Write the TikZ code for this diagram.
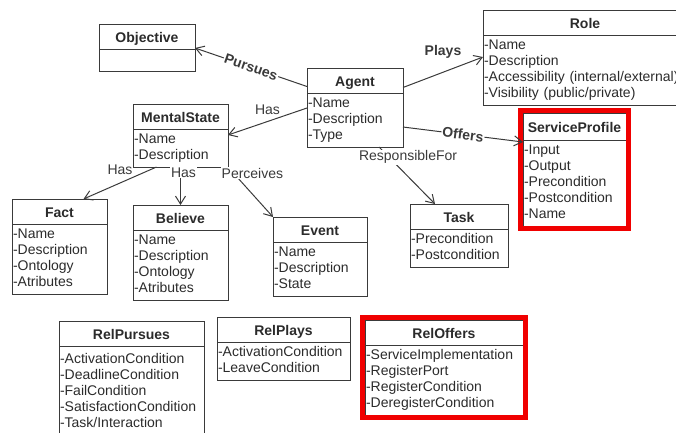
\documentclass[tikz,border=0pt]{standalone}
\usepackage{fontspec}
\setmainfont{Liberation Sans}
\usepackage{tikz}
\usetikzlibrary{arrows.meta,positioning,fit}
\definecolor{umlink}{HTML}{2B2B2B}
\definecolor{umlline}{HTML}{3A3A3A}
\definecolor{hilite}{HTML}{F00000}
\newcommand{\umlfont}{\fontsize{14}{16}\selectfont}

\begin{document}
\begin{tikzpicture}[
  x=1pt, y=-1pt,
  font=\umlfont, text=umlink,
  head/.style={draw=umlline, line width=1pt, anchor=north west, outer sep=0pt,
               minimum width=#1, minimum height=25pt, inner sep=0pt,
               text height=15pt, text depth=4pt, font=\umlfont\bfseries},
  attrs/.style={draw=umlline, line width=1pt, outer sep=0pt, text width=#1,
                align=left, inner xsep=1pt, inner ysep=3pt,
                execute at begin node=\strut, execute at end node=\strut},
  rel/.style={-{Straight Barb[length=8pt,width=10pt]}, umlline, line width=1pt},
  lbl/.style={inner sep=1pt},
  blbl/.style={inner sep=1pt, font=\umlfont\bfseries},
  redbox/.style={draw=hilite, line width=4.5pt, inner sep=2.5pt}]
  \useasboundingbox (0,0) rectangle (676,432);

  % classes
  \node[head=96pt] (obj) at (99,24) {Objective};
  \node[attrs=94pt, below=0pt of obj] (obj-b) {};
  \node[head=96pt] (agent) at (307,68) {Agent};
  \node[attrs=94pt, below=0pt of agent] (agent-b) {-Name\\-Description\\-Type};
  \node[head=95pt] (ms) at (133,104) {MentalState};
  \node[attrs=93pt, below=0pt of ms] (ms-b) {-Name\\-Description};
  \node[head=204pt] (role) at (483,10) {Role};
  \node[attrs=202pt, below=0pt of role] (role-b)
    {-Name\\-Description\\-Accessibility (internal/external)\\-Visibility (public/private)};
  \node[head=103pt, minimum height=27pt] (sp) at (523,113) {ServiceProfile};
  \node[attrs=101pt, below=0pt of sp] (sp-b)
    {-Input\\-Output\\-Precondition\\-Postcondition\\-Name};
  \node[head=98pt] (task) at (410,204) {Task};
  \node[attrs=96pt, below=0pt of task] (task-b) {-Precondition\\-Postcondition};
  \node[head=95pt] (fact) at (12,199) {Fact};
  \node[attrs=93pt, below=0pt of fact] (fact-b)
    {-Name\\-Description\\-Ontology\\-Atributes};
  \node[head=95pt] (bel) at (133,205) {Believe};
  \node[attrs=93pt, below=0pt of bel] (bel-b)
    {-Name\\-Description\\-Ontology\\-Atributes};
  \node[head=94pt] (ev) at (273,217) {Event};
  \node[attrs=92pt, below=0pt of ev] (ev-b) {-Name\\-Description\\-State};

  % relation classes
  \node[head=145pt] (rpu) at (59,321) {RelPursues};
  \node[attrs=143pt, below=0pt of rpu, minimum height=92pt] (rpu-b)
    {-ActivationCondition\\-DeadlineCondition\\-FailCondition\\-SatisfactionCondition\\-Task/Interaction};
  \node[head=133pt] (rpl) at (217,317) {RelPlays};
  \node[attrs=131pt, below=0pt of rpl] (rpl-b) {-ActivationCondition\\-LeaveCondition};
  \node[head=158pt] (rof) at (365,320) {RelOffers};
  \node[attrs=156pt, below=0pt of rof] (rof-b)
    {-ServiceImplementation\\-RegisterPort\\-RegisterCondition\\-DeregisterCondition};

  % highlights
  \node[redbox, fit=(sp)(sp-b)] (sp-mark) {};
  \node[redbox, fit=(rof)(rof-b)] (rof-mark) {};

  % associations
  \draw[rel] ([yshift=-6pt]agent.west)
    -- node[blbl, sloped, fill=white] {Pursues} ([yshift=1pt]obj.south east);
  \draw[rel] ([yshift=12pt]agent-b.west)
    -- node[lbl, above=5pt] {Has} ([yshift=13pt]ms-b.east);
  \draw[rel] ([yshift=-7pt]agent.east)
    -- node[blbl, above=12pt] {Plays} ([yshift=13pt]role-b.west);
  \draw[rel] ([yshift=-7pt]agent-b.east)
    -- node[blbl, sloped, fill=white] {Offers} ([yshift=-2pt]sp-b.north west);
  \draw[rel] ([xshift=24pt]agent-b.south)
    -- node[lbl, pos=.18, xshift=19pt, fill=white] {ResponsibleFor} ([xshift=-24pt]task.north);
  \draw[rel] ([xshift=-24pt]ms-b.south)
    -- node[lbl, above=7pt] {Has} ([xshift=24pt]fact.north);
  \draw[rel] (ms-b.south)
    -- node[lbl, pos=.14, xshift=3pt, fill=white] {Has} (bel.north);
  \draw[rel] (ms-b.south east)
    -- node[lbl, pos=.12, xshift=19pt, fill=white] {Perceives} (ev.north west);
\end{tikzpicture}
\end{document}
